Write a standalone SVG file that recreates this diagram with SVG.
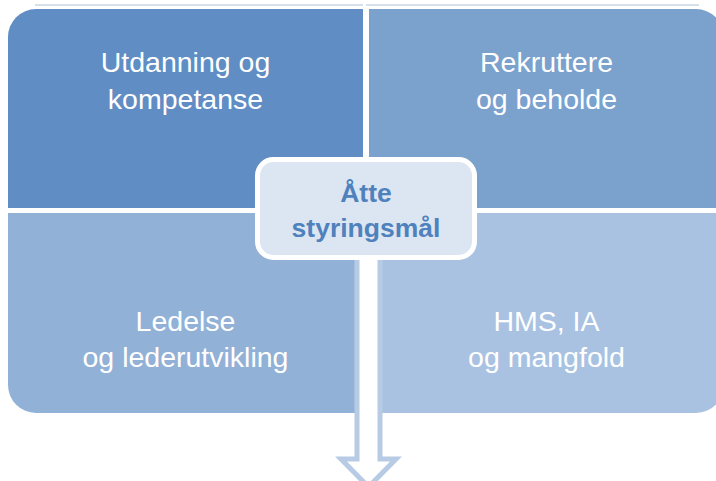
<svg xmlns="http://www.w3.org/2000/svg" width="716" height="481" viewBox="0 0 716 481">
<style>
.q{stroke:none}
.lbl{font-family:"Liberation Sans",Arial,sans-serif;font-size:28.5px;fill:#ffffff;text-anchor:middle}
.ctr{font-family:"Liberation Sans",Arial,sans-serif;font-size:26.5px;font-weight:bold;fill:#4f81bd;text-anchor:middle}
</style>
<rect width="716" height="481" fill="#ffffff"/>
<g id="topline" stroke="#c8d5e5" stroke-width="1.5">
<line x1="35" y1="5" x2="363" y2="5"/>
<line x1="366" y1="5" x2="699" y2="5"/>
</g>
<g id="q-utdanning">
<path class="q" fill="#5f8dc4" d="M8,37 A28,28 0 0 1 36,9 L363,9 L363,208 L8,208 Z"/>
<text class="lbl" x="185.5" y="72">Utdanning og</text>
<text class="lbl" x="185.5" y="109">kompetanse</text>
</g>
<g id="q-rekruttere">
<path class="q" fill="#7ba1cd" d="M369,9 L696,9 A28,28 0 0 1 724,37 L724,208 L369,208 Z"/>
<text class="lbl" x="546.5" y="72">Rekruttere</text>
<text class="lbl" x="546.5" y="109">og beholde</text>
</g>
<g id="q-ledelse">
<path class="q" fill="#92b1d7" d="M8,213 L363,213 L363,413 L36,413 A28,28 0 0 1 8,385 Z"/>
<text class="lbl" x="185.5" y="331">Ledelse</text>
<text class="lbl" x="185.5" y="367">og lederutvikling</text>
</g>
<g id="q-hms">
<path class="q" fill="#a9c2e1" d="M369,213 L724,213 L724,385 A28,28 0 0 1 696,413 L369,413 Z"/>
<text class="lbl" x="546.5" y="331">HMS, IA</text>
<text class="lbl" x="546.5" y="367">og mangfold</text>
</g>
<g id="connectors">
<path d="M357,255 L357,459 L341,459 L368.5,487 L396,459 L380,459 L380,255 Z" fill="#ffffff" stroke="#b7cbe4" stroke-width="5" stroke-linejoin="miter"/>
</g>
<g id="center">
<rect x="257.5" y="159.5" width="217" height="98" rx="16" ry="16" fill="#dce6f2" stroke="#ffffff" stroke-width="5"/>
<text class="ctr" x="366" y="202">Åtte</text>
<text class="ctr" x="366" y="237">styringsmål</text>
</g>
</svg>
